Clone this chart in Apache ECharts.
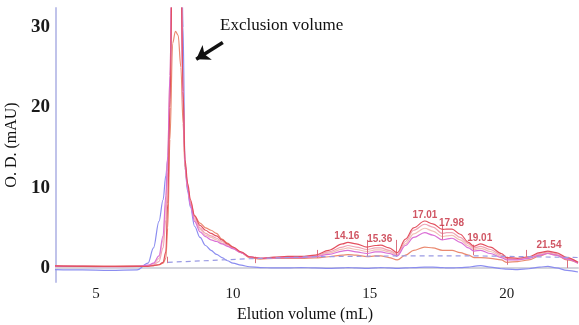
<!DOCTYPE html>
<html>
<head>
<meta charset="utf-8">
<script src="https://cdn.jsdelivr.net/npm/echarts@6/dist/echarts.min.js"></script>
<style>html,body{margin:0;padding:0;background:#fff;}#c{width:579px;height:325px;}</style>
</head>
<body>
<div id="c"></div>
<script>
// ---- data ----
const elution = [3.5, 4.5, 5.5, 6.5, 6.9, 7.1, 7.3, 7.45, 7.55, 7.62, 7.7, 7.8, 7.9, 8.0, 8.1, 8.18, 8.25, 8.35, 8.45, 8.6, 8.8, 9.0, 9.2, 9.4, 9.6, 9.8, 10.0, 10.3, 10.6, 11.0, 11.5, 12.0, 12.5, 13.0, 13.5, 14.0, 14.2, 14.5, 14.9, 15.2, 15.4, 15.7, 16.0, 16.3, 16.6, 17.0, 17.3, 17.65, 17.8, 18.0, 18.3, 18.6, 18.8, 19.05, 19.4, 19.8, 20.0, 20.4, 20.8, 21.2, 21.5, 21.8, 22.2, 22.6];

const traceBlue = [-0.2,-0.25,-0.3,-0.25,0.6,2.5,5.8,8.5,11.5,13.5, 21,42,52,54,46,30, 12.5,9.5,7.6,5.2,3.8, 2.8,2.2,1.7,1.3,0.9, 0.6,0.35,0.15,0.05,0.0,
  0.0,0.05,0.0,-0.05,0.0, 0.05,0.0,-0.05,0.0,0.05, 0.0,-0.05,0.0,0.05,0.1, 0.1,0.05,0.0,0.0,0.05, 0.1,0.2,0.3,0.1,-0.1, -0.15,-0.2,-0.1,0.1,0.2, 0.0,-0.3,-0.5];
const traceRed = [0.25,0.2,0.2,0.2,0.2,0.3,0.4,0.7,2.0,8.0, 20,42,55,52,38,22, 13.5,10.5,8.5,6.5,5.3, 4.7,4.3,4.0,3.5,3.0, 2.6,2.0,1.4,1.2,1.35,
  1.45,1.45,1.6,2.2,3.0, 3.2,3.0,2.6,2.8,2.85, 2.5,1.9,3.6,5.0,5.85, 5.5,4.8,4.85,4.85,4.2, 3.2,2.7,3.0,2.6,1.8, 1.3,1.2,1.4,1.9,2.1, 1.9,1.3,0.7];
const tracePink = [0.2,0.2,0.2,0.2,0.25,0.4,0.8,2.5,6,12, 22,44,55,52,38,21, 13,10,8,6.2,5.0, 4.3,4.0,3.7,3.3,2.9, 2.5,1.9,1.4,1.2,1.3,
  1.4,1.4,1.5,2.0,2.6, 2.8,2.6,2.3,2.5,2.5, 2.2,1.7,3.3,4.7,5.45, 5.1,4.3,4.4,4.4,3.8, 3.0,2.5,2.7,2.3,1.6, 1.2,1.1,1.3,1.8,2.0, 1.8,1.2,0.7];
const traceLight = [0.15,0.15,0.15,0.2,0.3,0.5,1.2,3.5,8,14, 24,45,55,52,38,21, 13,10,8,6,4.8, 4.1,3.8,3.5,3.1,2.8, 2.4,1.9,1.4,1.2,1.3,
  1.35,1.35,1.45,1.85,2.35, 2.5,2.3,2.05,2.25,2.25, 2.0,1.6,3.0,4.25,4.95, 4.6,3.9,4.0,4.05,3.5, 2.75,2.3,2.45,2.05,1.45, 1.1,1.05,1.25,1.7,1.9, 1.7,1.15,0.65];
const traceMagenta = [0.2,0.2,0.15,0.2,0.35,0.6,1.5,4,9,14, 24,45,56,52,38,21, 13,9.8,7.8,5.8,4.5, 3.9,3.5,3.3,3.0,2.7, 2.4,1.9,1.4,1.2,1.25,
  1.3,1.3,1.4,1.7,2.1, 2.2,2.0,1.8,2.0,2.0, 1.8,1.5,2.8,3.8,4.4, 4.1,3.5,3.6,3.7,3.2, 2.5,2.1,2.2,1.8,1.3, 1.0,1.0,1.2,1.6,1.8, 1.6,1.1,0.6];
const traceOrange = [0.3,0.25,0.2,0.25,0.25,0.3,0.4,0.6,1.2,5, 16,28,29.5,29,25,18, 12.5,10,8.2,6.5,5.6, 5.0,4.7,4.3,3.6,3.1, 2.6,1.9,1.3,1.1,1.2,
  1.2,1.2,1.25,1.4,1.6, 1.65,1.6,1.4,1.5,1.5, 1.3,1.0,1.6,2.2,2.6, 2.5,2.2,2.2,2.2,1.9, 1.6,1.3,1.3,1.2,1.0, 0.7,0.8,1.0,1.5,1.8, 1.6,1.0,0.6];

const baselineX = [7.62, 10.6, 13.0, 16.0, 19.0, 22.6];
const baselineY = [0.7, 1.15, 1.4, 1.5, 1.5, 1.3];

const markerX    = [7.62, 10.8, 13.07, 14.9, 15.98, 17.66, 18.76, 20.03, 20.7, 22.2];
const markerLow  = [0.6, 0.6, 1.25, 1.4, 1.4, 3.5, 1.6, 0.4, 1.4, 0.0];
const markerHigh = [1.4, 1.4, 2.25, 3.5, 3.5, 5.35, 2.9, 1.4, 2.25, 1.0];

const peakX = [14.16, 15.36, 17.01, 17.98, 19.01, 21.54];
const peakY = [3.2, 2.85, 5.85, 4.85, 3.0, 2.1];

const xTicks = [5, 10, 15, 20];
const yTicks = [0, 10, 20, 30];

const arrowFrom = [9.63, 28.1];
const arrowTo = [8.66, 26.0];

// ---- chart ----
const chart = echarts.init(document.getElementById('c'), null, {renderer: 'canvas'});
const pair = (ys) => elution.map((x, i) => [x, ys[i]]);
function trace(name, ys, color, z) {
  return {
    name, type: 'line', data: pair(ys), showSymbol: false, smooth: 0.35, smoothMonotone: 'x',
    lineStyle: {color, width: 1.2}, itemStyle: {color}, z: z || 2, silent: true
  };
}
const serif = '"Liberation Serif", "DejaVu Serif", serif';

const series = [
  trace('blue', traceBlue, '#8b8df0', 2),
  trace('light', traceLight, '#f2c2b8', 3),
  trace('orange', traceOrange, '#ea8a70', 3),
  trace('pink', tracePink, '#f0a4b6', 4),
  trace('magenta', traceMagenta, '#da6fd6', 5),
  trace('red', traceRed, '#e3505f', 6),
  {
    name: 'baseline', type: 'line', data: baselineX.map((x, i) => [x, baselineY[i]]),
    showSymbol: false, lineStyle: {color: '#9a9ae4', width: 1.2, type: [5, 4]}, z: 7, silent: true,
    markLine: {
      silent: true, symbol: ['none', 'none'], label: {show: false},
      lineStyle: {color: '#d9707e', width: 1, type: 'solid'},
      data: markerX.map((x, i) => [{coord: [x, markerLow[i]]}, {coord: [x, markerHigh[i]]}])
    }
  },
  {
    name: 'peaks', type: 'scatter', data: peakX.map((x, i) => [x, peakY[i]]),
    symbolSize: 0, z: 10, silent: true,
    label: {
      show: true, position: 'top', distance: 1,
      formatter: (p) => p.value[0].toFixed(2),
      fontFamily: '"Liberation Sans", Arial, sans-serif', fontWeight: 'bold', fontSize: 10, color: '#c42a3c'
    }
  },
  {
    name: 'arrow', type: 'line', data: [], silent: true,
    markLine: {
      silent: true, symbol: ['none', 'arrow'], symbolSize: 13, label: {show: false},
      lineStyle: {color: '#111', width: 3.5, type: 'solid'},
      emphasis: {disabled: true},
      data: [[{coord: arrowFrom}, {coord: arrowTo}]]
    }
  }
];

chart.setOption({
  animation: false,
  backgroundColor: '#fff',
  grid: {left: 56, right: 1, top: 8, bottom: 43, containLabel: false, outerBoundsMode: 'none'},
  xAxis: {
    type: 'value', min: 3.54, max: 22.6,
    name: 'Elution volume (mL)', nameLocation: 'middle', nameGap: 22,
    nameTextStyle: {fontFamily: serif, fontSize: 16, color: '#111', padding: [0, 24, 0, 0]},
    axisLine: {show: true, lineStyle: {color: '#d4d4dc', width: 2}},
    axisTick: {show: false},
    splitLine: {show: false},
    axisLabel: {customValues: xTicks, fontFamily: serif, fontSize: 15, color: '#1a1a1a', margin: 5}
  },
  yAxis: {
    type: 'value', min: -1.75, max: 32.4,
    name: 'O. D. (mAU)', nameLocation: 'middle', nameGap: 26, nameRotate: 90,
    nameTextStyle: {fontFamily: serif, fontSize: 16, color: '#111'},
    axisLine: {show: true, lineStyle: {color: '#c0c3ea', width: 2}},
    axisTick: {show: false},
    splitLine: {show: false},
    axisLabel: {customValues: yTicks, fontFamily: serif, fontSize: 19, fontWeight: 'bold', color: '#1a1a1a', margin: 6}
  },
  graphic: [{
    type: 'text', left: 220, top: 17,
    style: {text: 'Exclusion volume', font: '17px "Liberation Serif"', fill: '#111'}
  }],
  series
});
</script>
</body>
</html>
